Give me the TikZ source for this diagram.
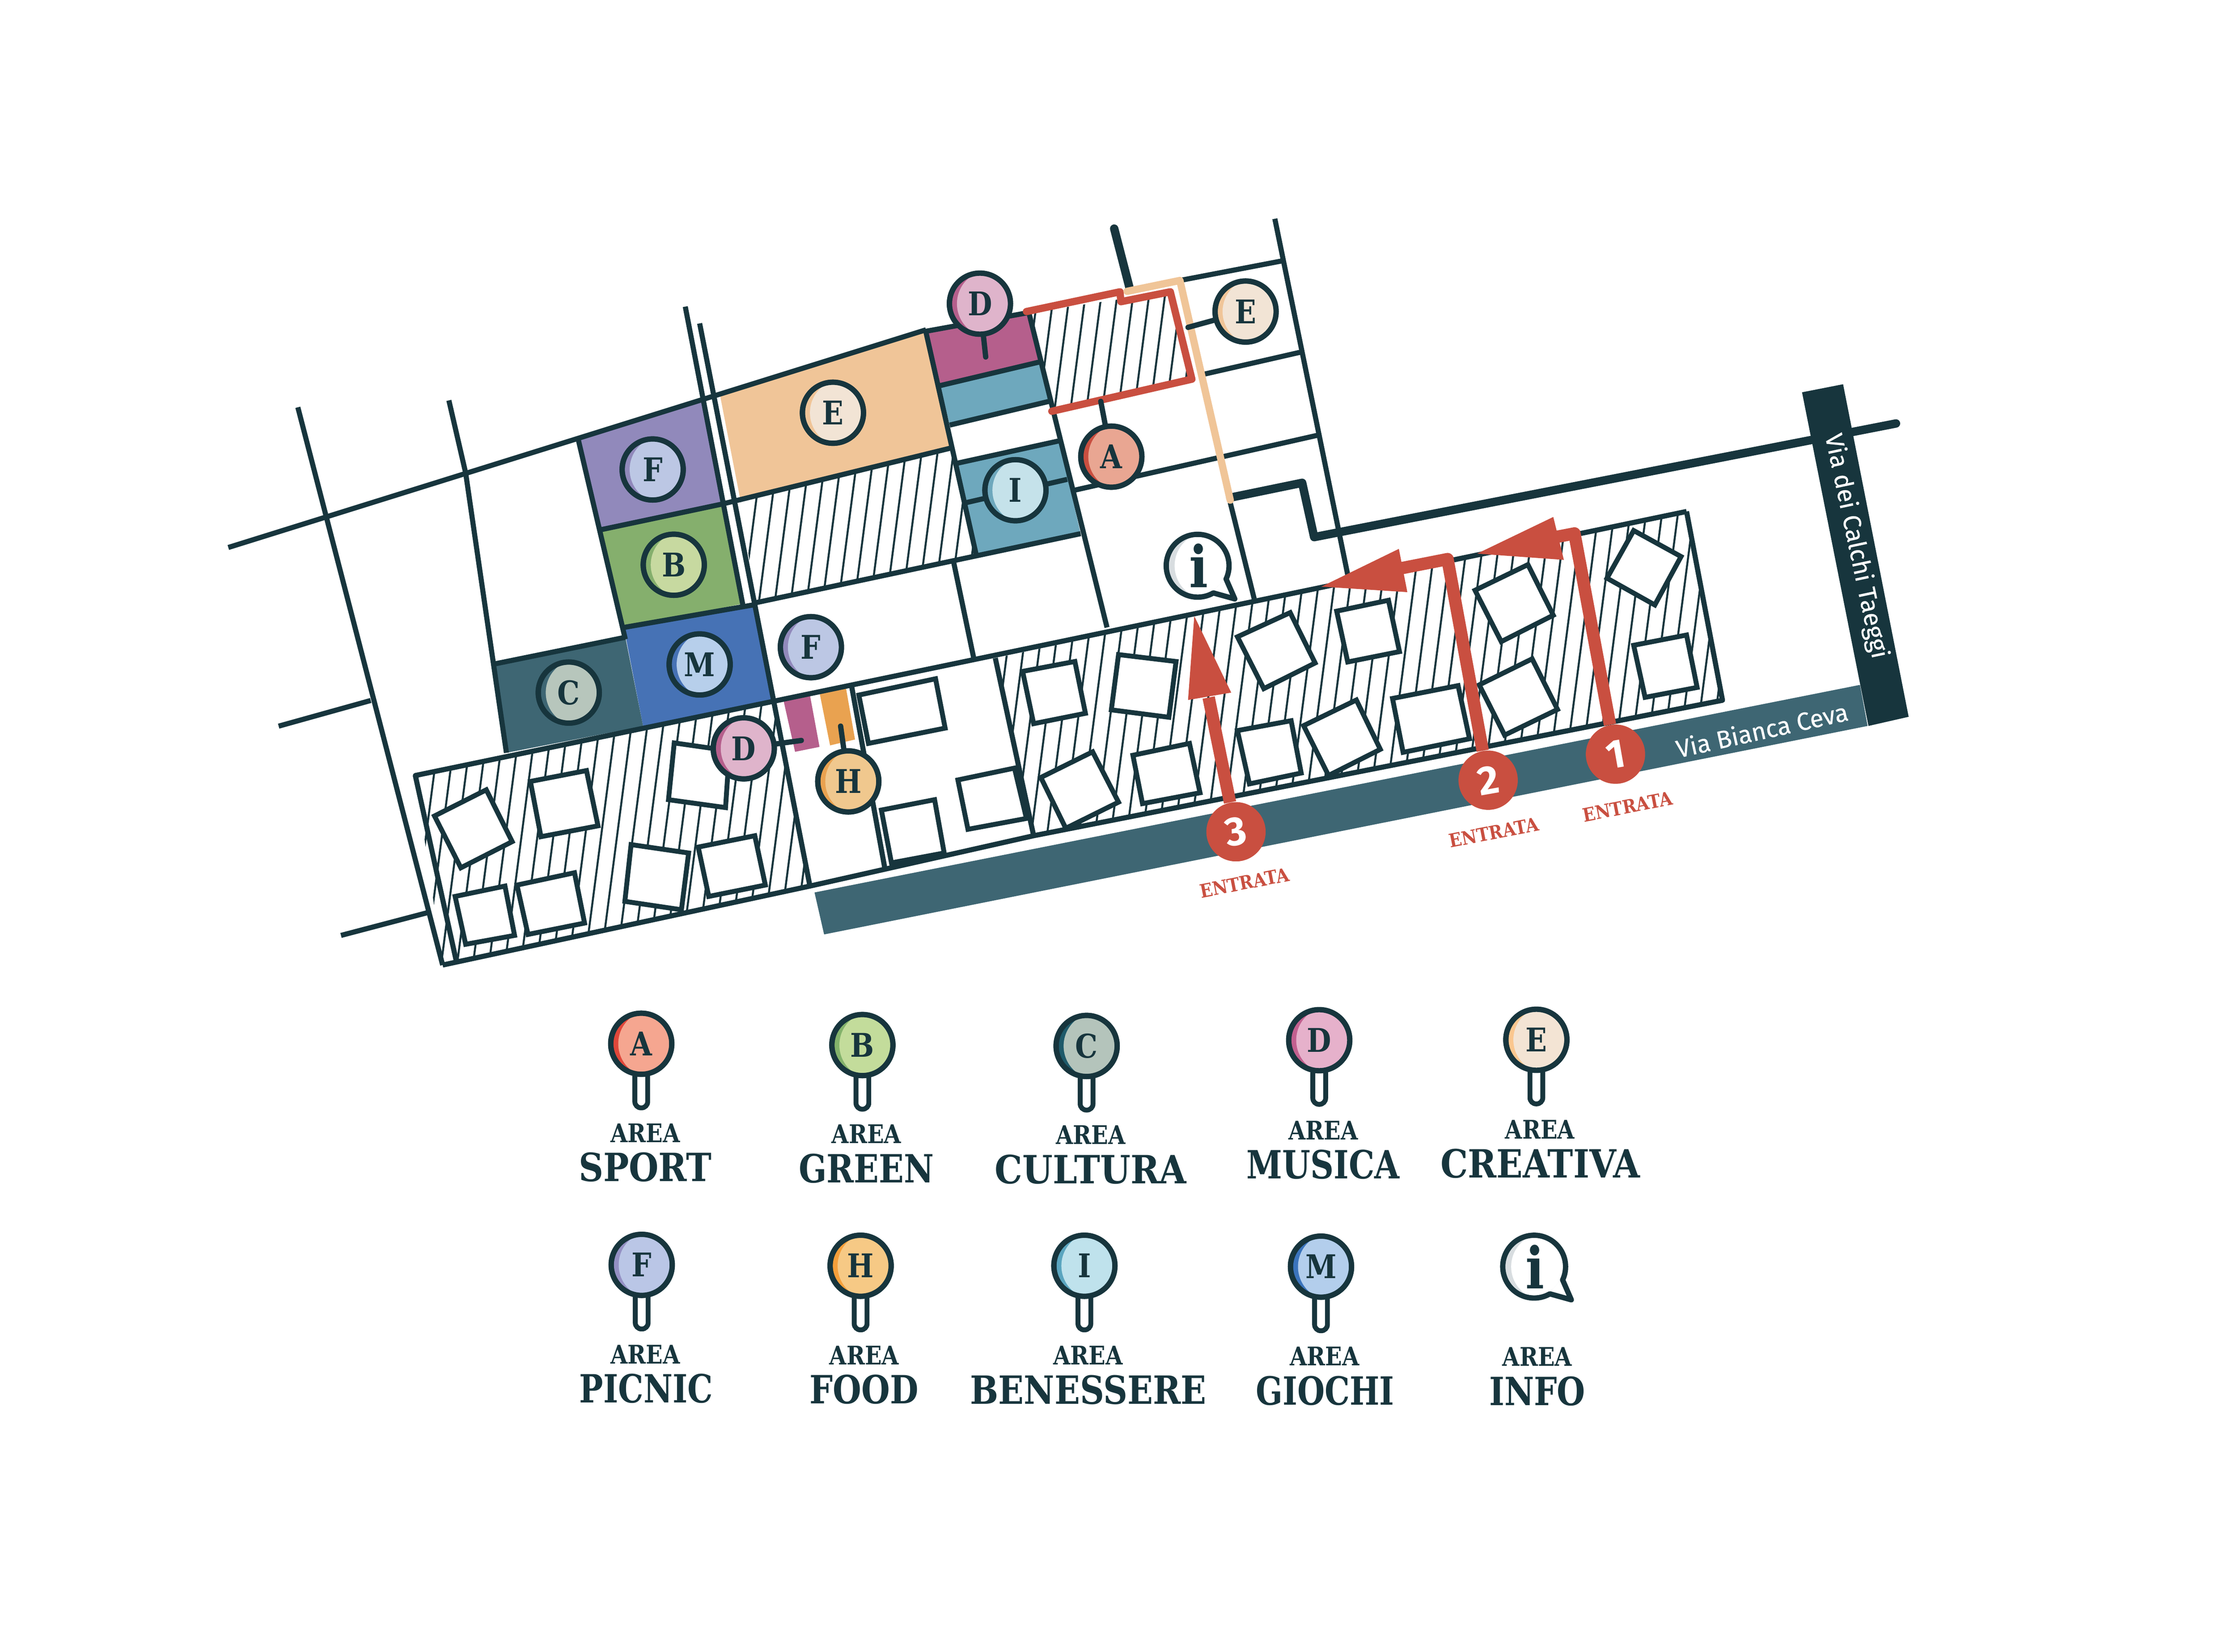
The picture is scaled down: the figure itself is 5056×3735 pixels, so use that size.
\documentclass[tikz,border=0pt]{standalone}
\usepackage{graphicx}
\usepackage{fontspec}
\usetikzlibrary{calc}
\newfontfamily\slab[FakeStretch=0.86]{DejaVu Serif}
\newfontfamily\viafont{Fira Sans}
\newfontfamily\viaboldish[FakeBold=0.4]{Fira Sans}
\definecolor{dk}{HTML}{17353D}
\definecolor{redc}{HTML}{C94F40}
\definecolor{tealb}{HTML}{3E6673}
\definecolor{purp}{HTML}{9189BB}
\definecolor{purpl}{HTML}{BCC7E4}
\definecolor{grn}{HTML}{85AF6D}
\definecolor{grnl}{HTML}{C7D9A0}
\definecolor{tealbl}{HTML}{B7C6BC}
\definecolor{blu}{HTML}{4672B5}
\definecolor{blul}{HTML}{B7CFEB}
\definecolor{mag}{HTML}{B55F8C}
\definecolor{magl}{HTML}{DFB4CB}
\definecolor{org}{HTML}{E9A250}
\definecolor{orgl}{HTML}{F0C88E}
\definecolor{pch}{HTML}{F0C598}
\definecolor{pchl}{HTML}{F2E4D5}
\definecolor{sal}{HTML}{E9A692}
\definecolor{cya}{HTML}{6EA8BD}
\definecolor{cyal}{HTML}{C5E2EA}
\definecolor{cresc}{HTML}{D8DDE0}
% legend tints
\definecolor{leAd}{HTML}{E0473A}\definecolor{leAl}{HTML}{F5A690}
\definecolor{leBd}{HTML}{83B26B}\definecolor{leBl}{HTML}{C3DC9B}
\definecolor{leCd}{HTML}{1F5A6A}\definecolor{leCl}{HTML}{B4C4BB}
\definecolor{leDd}{HTML}{C2608F}\definecolor{leDl}{HTML}{E6B1CB}
\definecolor{leEd}{HTML}{FBC78F}\definecolor{leEl}{HTML}{F3E4D4}
\definecolor{leFd}{HTML}{9490C4}\definecolor{leFl}{HTML}{BAC6E6}
\definecolor{leHd}{HTML}{F59F3A}\definecolor{leHl}{HTML}{F6C985}
\definecolor{leId}{HTML}{5AA5BF}\definecolor{leIl}{HTML}{BFE2EC}
\definecolor{leMd}{HTML}{3B74BC}\definecolor{leMl}{HTML}{B3CEEC}
\tikzset{
 z1/.style={shift={(500,450)},xscale=1.0842,yscale=1.116},
 z2/.style={shift={(1600,450)},xscale=1.0842,yscale=1.116},
 z3/.style={shift={(2900,800)},xscale=0.9566,yscale=0.829},
 road/.style={draw=dk,line width=0.115cm},
 heavy/.style={draw=dk,line width=0.19cm,line join=round,line cap=round},
 hatchline/.style={draw=dk,line width=0.045cm},
 bldg/.style={draw=dk,fill=white,line width=0.11cm},
 stemline/.style={draw=dk,line width=0.12cm,line cap=round},
 pinbase/.style={circle,draw=dk,line width=0.12cm,minimum size=1.38cm,inner sep=0pt},
 pinletter/.style={text=dk,inner sep=0pt,font=\slab\bfseries\fontsize{21}{21}\selectfont},
 redpath/.style={draw=redc,line width=0.28cm,line join=round},
 redthin/.style={draw=redc,line width=0.165cm,line join=round,line cap=round},
 entrycircle/.style={circle,fill=redc,text=white,minimum size=1.34cm,inner sep=0pt},
 entrynum/.style={text=white,inner sep=0pt,rotate=10,font=\viafont\bfseries\fontsize{26}{26}\selectfont},
 entrylabel/.style={text=redc,inner sep=0pt,rotate=11,font=\slab\bfseries\fontsize{12}{12}\selectfont},
 arealabel/.style={text=dk,inner sep=0pt,anchor=base,font=\slab\bfseries\fontsize{16.5}{17}\selectfont},
 biglabel/.style={text=dk,inner sep=0pt,anchor=base,font=\slab\bfseries\fontsize{25}{26}\selectfont},
 vialabel/.style={text=white,inner sep=0pt,font=\viaboldish\fontsize{16}{17}\selectfont},
}
\newcommand{\hatcharea}[1]{%
 \begin{scope}
  \clip #1;
  \foreach \hx in {1000,1036,...,4700}{\draw[hatchline] (\hx,500) -- ({\hx-234},2300);}
 \end{scope}}
\newcommand{\mappin}[5]{%
 \node[pinbase,fill=#4] (#1) at (#2) {};
 \begin{scope}
  \clip (#2) circle (64);
  \fill[#5] ($(#2)+(24,0)$) circle (76);
 \end{scope}
 \draw[dk,line width=0.12cm] (#2) circle (69);
 \node[pinletter] (#1t) at (#2) {#3};}
\newcommand{\infobubble}[2]{%
 \begin{scope}[shift={(#2)}]
  \fill[white] (25:71) arc[start angle=25,end angle=-300,radius=71] -- (84,75) -- cycle;
  \begin{scope}
   \clip (0,0) circle (65);
   \fill[cresc] (0,0) circle (65);
   \fill[white] (24,0) circle (76);
  \end{scope}
  \draw[dk,line width=0.12cm,line join=round] (25:71) arc[start angle=25,end angle=-300,radius=71] -- (84,75) -- cycle;
  \node[text=dk,inner sep=0pt,font=\slab\bfseries\fontsize{37}{37}\selectfont] (#1) at (2,0) {i};
 \end{scope}}
\newcommand{\legendpin}[6]{%
 \begin{scope}[shift={(#2,#3)}]
  \draw[dk,fill=white,line width=0.11cm,rounded corners=0.14cm] (-14.5,60) rectangle (14.5,145);
  \coordinate (#1c) at (0,0);
 \end{scope}
 \mappin{#1}{#1c}{#4}{#5}{#6}}
\newcommand{\legendtext}[7]{%
 \node[arealabel] (#1a) at (#2,{#3+21}) {AREA};
 \node[biglabel] (#1b) at (#4,{#5+32}) {\scalebox{#7}[1]{#6}};}
\begin{document}
\begin{tikzpicture}[x=0.01cm,y=-0.01cm]
\useasboundingbox (0,0) rectangle (5056,3735);
\fill[white] (0,0) rectangle (5056,3735);
% ---- named points
\begin{scope}[z1]
 \coordinate (cF1) at (900,548); \coordinate (cB) at (944,741); \coordinate (cC) at (725,1000);
 \coordinate (cM) at (998,943); \coordinate (cF2) at (1230,908); \coordinate (cD1) at (1090,1113);
 \coordinate (cH) at (1308,1180); \coordinate (cE1) at (1276,433);
 \coordinate (sD1) at (1210,1097); \coordinate (sH) at (1292,1068);
 \coordinate (mainA) at (1150,1018); \coordinate (lotA) at (1228,1392);
 \coordinate (lotTL) at (405,1168); \coordinate (lotBL) at (462,1552);
\end{scope}
\begin{scope}[z2]
 \coordinate (cD2) at (568,212); \coordinate (cE2) at (1122,228); \coordinate (cA) at (842,522);
 \coordinate (cI) at (642,590); \coordinate (cInfo) at (1022,743);
 \coordinate (sD2) at (580,320); \coordinate (sE2) at (1002,260); \coordinate (sA) at (820,410);
 \coordinate (sIa) at (540,615); \coordinate (sIb) at (750,568);
 \coordinate (lotC) at (600,930); \coordinate (lotD) at (680,1290);
 \coordinate (n3) at (1102,1282); \coordinate (h3) at (1045,1010);
 \coordinate (tip3) at (1015,845); \coordinate (a3) at (1002,1015); \coordinate (b3) at (1092,1000);
 \coordinate (bandA) at (223,1405); \coordinate (bandB) at (243,1490);
 \coordinate (thickA) at (1090,605); \coordinate (thickB) at (1240,575); \coordinate (thickC) at (1265,685);
\end{scope}
\begin{scope}[z3]
 \coordinate (lotE) at (955,430); \coordinate (lotF) at (1040,945);
 \coordinate (thickD) at (1450,190);
 \coordinate (bandC) at (1365,903); \coordinate (bandD) at (1383,1015);
 \coordinate (n1) at (787,1092); \coordinate (t1) at (690,490); \coordinate (e1) at (645,500);
 \coordinate (tip1) at (460,545); \coordinate (a1) at (640,445); \coordinate (b1) at (665,562);
 \coordinate (n2) at (486,1163); \coordinate (t2) at (390,560); \coordinate (e2) at (280,585);
 \coordinate (tip2) at (92,635); \coordinate (a2) at (275,532); \coordinate (b2) at (295,650);
\end{scope}
% ---- hatching
\hatcharea{(lotTL) -- (mainA) -- (lotA) -- (lotBL) -- cycle}
\begin{scope}[z2]\coordinate (h2a) at (68,605); \coordinate (h2b) at (505,505); \coordinate (h2c) at (560,720); \coordinate (h2d) at (100,818);
 \coordinate (h3a) at (670,230); \coordinate (h3b) at (965,188); \coordinate (h3c) at (1010,365); \coordinate (h3d) at (718,430);\end{scope}
\hatcharea{(h2a) -- (h2b) -- (h2c) -- (h2d) -- cycle}
\hatcharea{(h3a) -- (h3b) -- (h3c) -- (h3d) -- cycle}
\hatcharea{(lotC) -- (lotE) -- (lotF) -- (lotD) -- cycle}
% ---- colour blocks
\begin{scope}[z1]
 \fill[purp] (745,488) -- (1005,405) -- (1045,618) -- (792,670) -- cycle;
 \fill[grn] (792,670) -- (1045,618) -- (1088,820) -- (840,868) -- cycle;
 \fill[blu] (840,868) -- (1112,822) -- (1150,1018) -- (880,1068) -- cycle;
 \fill[tealb] (570,942) -- (843,888) -- (880,1068) -- (595,1122) -- cycle;
 \fill[pch] (1040,395) -- (1470,268) -- (1520,505) -- (1082,605) -- cycle;
 \fill[mag] (1172,1012) -- (1228,1005) -- (1248,1110) -- (1197,1120) -- cycle;
 \fill[org] (1248,1000) -- (1303,990) -- (1322,1095) -- (1270,1107) -- cycle;
\end{scope}
\begin{scope}[z2]
 \fill[mag] (455,268) -- (670,230) -- (693,330) -- (485,378) -- cycle;
 \fill[cya] (485,378) -- (693,330) -- (712,410) -- (505,458) -- cycle;
 \fill[cya] (522,535) -- (733,490) -- (778,678) -- (562,718) -- cycle;
\end{scope}
% ---- roads and lot lines
\begin{scope}[z1]
 \draw[road] (15,706) -- (1470,265);
 \draw[road] (160,422) -- (462,1552);
 \draw[road] (475,408) -- (510,555) -- (595,1122);
 \draw[road] (120,1068) -- (312,1016);
 \draw[road] (250,1492) -- (430,1446);
 \draw[road,line join=round] (490,1542) -- (405,1168) -- (1150,1018);
 \draw[road] (968,218) -- (1088,822);
 \draw[road] (998,252) -- (1228,1392);
 \draw[road] (745,488) -- (843,892);
 \draw[road] (792,670) -- (1045,618);
 \draw[road] (840,868) -- (1112,822);
 \draw[road] (570,942) -- (843,888);
 \draw[road] (1045,618) -- (1520,505);
\end{scope}
\draw[road] (mainA) -- (lotE);
\draw[road,line join=round] (lotBL) -- (lotA) -- (lotD) -- (lotF) -- (lotE);
\draw[road] (lotC) -- (lotD);
\begin{scope}[z2]
 \draw[road] (455,268) -- (670,230);
 \draw[road] (455,268) -- (560,720);
 \draw[road] (670,230) -- (833,868);
 \draw[road] (485,378) -- (693,330);
 \draw[road] (505,458) -- (712,410);
 \draw[road] (522,535) -- (733,490);
 \draw[road] (100,818) -- (778,678);
 \draw[road] (765,590) -- (1275,478);
 \draw[road] (985,165) -- (1200,125);
 \draw[road] (1035,355) -- (1238,310);
 \draw[road] (1183,40) -- (1340,785);
 \draw[road] (513,735) -- (555,930);
 \draw[road] (1090,615) -- (1140,810);
 \draw[road] (300,985) -- (370,1358);
 \coordinate (hvA) at (848,60); \coordinate (hvB) at (880,180);
\end{scope}
% ---- buildings
\begin{scope}[z1]
 \draw[bldg] (445,1250) -- (553,1197) -- (607,1302) -- (500,1355) -- cycle;
 \draw[bldg] (645,1180) -- (762,1158) -- (786,1270) -- (667,1292) -- cycle;
 \draw[bldg] (945,1102) -- (1060,1118) -- (1052,1233) -- (933,1217) -- cycle;
 \draw[bldg] (488,1413) -- (592,1392) -- (612,1492) -- (510,1510) -- cycle;
 \draw[bldg] (617,1390) -- (737,1365) -- (758,1467) -- (640,1490) -- cycle;
 \draw[bldg] (855,1308) -- (975,1325) -- (960,1440) -- (842,1423) -- cycle;
 \draw[bldg] (995,1313) -- (1113,1290) -- (1135,1390) -- (1017,1413) -- cycle;
 \draw[bldg] (1330,1005) -- (1490,972) -- (1510,1072) -- (1350,1103) -- cycle;
 \draw[bldg] (1377,1238) -- (1488,1217) -- (1508,1325) -- (1398,1345) -- cycle;
\end{scope}
\begin{scope}[z2]
 \draw[bldg] (522,1177) -- (640,1153) -- (665,1255) -- (543,1277) -- cycle;
 \draw[bldg] (657,957) -- (766,937) -- (788,1042) -- (680,1063) -- cycle;
 \draw[bldg] (857,923) -- (977,937) -- (962,1050) -- (842,1035) -- cycle;
 \draw[bldg] (695,1172) -- (803,1120) -- (857,1222) -- (747,1275) -- cycle;
 \draw[bldg] (887,1127) -- (1005,1103) -- (1027,1203) -- (907,1225) -- cycle;
 \draw[bldg] (1105,887) -- (1215,838) -- (1267,940) -- (1160,992) -- cycle;
 \draw[bldg] (1105,1077) -- (1217,1057) -- (1238,1163) -- (1130,1185) -- cycle;
 \draw[bldg] (1243,1067) -- (1353,1015) -- (1403,1115) -- (1295,1168) -- cycle;
 \draw[bldg] (1312,835) -- (1420,813) -- (1443,917) -- (1335,938) -- cycle;
\end{scope}
\begin{scope}[z3]
 \draw[bldg] (260,940) -- (415,905) -- (442,1050) -- (285,1087) -- cycle;
 \draw[bldg] (455,645) -- (580,575) -- (640,713) -- (517,785) -- cycle;
 \draw[bldg] (465,903) -- (590,832) -- (650,970) -- (525,1040) -- cycle;
 \draw[bldg] (767,612) -- (830,482) -- (942,553) -- (880,685) -- cycle;
 \draw[bldg] (830,795) -- (955,767) -- (980,910) -- (857,937) -- cycle;
\end{scope}
% ---- heavy walls and streets
\draw[heavy] (hvA) -- (hvB);
\draw[heavy] (thickA) -- (thickB) -- (thickC) -- (thickD);
\fill[tealb] (bandA) -- (bandC) -- (bandD) -- (bandB) -- cycle;
\begin{scope}[z3]
 \fill[dk] (1228,105) -- (1325,83) -- (1480,990) -- (1385,1015) -- cycle;
\end{scope}
\node[vialabel,rotate=12.5] (via1) at (3984,1650) {Via Bianca Ceva};
\node[vialabel,rotate=-78] (via2) at (4196,1235) {Via dei Calchi Taeggi};
% ---- red and peach routes
\begin{scope}[z2]
 \draw[redthin] (665,228) -- (860,188) -- (862,208) -- (965,188) -- (1010,365) -- (718,430);
 \draw[draw=pch,line width=0.165cm,line cap=round,line join=round] (875,187) -- (985,165) -- (1090,610);
\end{scope}
% ---- pins on the map
\mappin{pF1}{cF1}{F}{purp}{purpl}
\mappin{pB}{cB}{B}{grn}{grnl}
\mappin{pC}{cC}{C}{tealb}{tealbl}
\mappin{pM}{cM}{M}{blu}{blul}
\mappin{pF2}{cF2}{F}{purp}{purpl}
\draw[stemline] (cD1) -- (sD1);
\mappin{pD1}{cD1}{D}{mag}{magl}
\draw[stemline] (sH) -- (cH);
\mappin{pH}{cH}{H}{org}{orgl}
\mappin{pE1}{cE1}{E}{pch}{pchl}
\draw[stemline] (sD2) -- (cD2);
\mappin{pD2}{cD2}{D}{mag}{magl}
\draw[stemline] (sE2) -- (cE2);
\mappin{pE2}{cE2}{E}{pch}{pchl}
\draw[stemline] (sA) -- (cA);
\mappin{pA}{cA}{A}{redc}{sal}
\draw[road] (sIa) -- (sIb);
\mappin{pI}{cI}{I}{cya}{cyal}
\infobubble{infoMap}{cInfo}
% ---- entrances
\node[entrycircle] (e3) at (n3) {};
\node[entrycircle] (e2n) at (n2) {};
\node[entrycircle] (e1n) at (n1) {};
\draw[redpath] (e3) -- (h3);
\fill[redc] (tip3) -- (a3) -- (b3) -- cycle;
\draw[redpath] (e2n) -- (t2) -- (e2);
\fill[redc] (tip2) -- (a2) -- (b2) -- cycle;
\draw[redpath] (e1n) -- (t1) -- (e1);
\fill[redc] (tip1) -- (a1) -- (b1) -- cycle;
\node[entrynum] (l3) at (n3) {3};
\node[entrynum] (l2) at (n2) {2};
\node[entrynum] (l1) at (n1) {1};
\node[entrylabel] (en1) at (3680,1824) {\scalebox{1.04}[1]{ENTRATA}};
\node[entrylabel] (en2) at (3378,1882) {\scalebox{1.04}[1]{ENTRATA}};
\node[entrylabel] (en3) at (2814,1996) {\scalebox{1.04}[1]{ENTRATA}};
% ---- legend
\legendpin{lA}{1450}{2360}{A}{leAd}{leAl}
\legendpin{lB}{1950}{2363}{B}{leBd}{leBl}
\legendpin{lC}{2457}{2365}{C}{leCd}{leCl}
\legendpin{lD}{2983}{2352}{D}{leDd}{leDl}
\legendpin{lE}{3474}{2351}{E}{leEd}{leEl}
\legendpin{lF}{1451}{2860}{F}{leFd}{leFl}
\legendpin{lH}{1946}{2862}{H}{leHd}{leHl}
\legendpin{lI}{2452}{2862}{I}{leId}{leIl}
\legendpin{lM}{2987}{2864}{M}{leMd}{leMl}
\coordinate (lInfoC) at (3469,2864);
\infobubble{lInfo}{lInfoC}
\legendtext{tA}{1459}{2562}{1459}{2639}{SPORT}{1.02}
\legendtext{tB}{1959}{2564}{1959}{2642}{GREEN}{0.98}
\legendtext{tC}{2466}{2566}{2466}{2644}{CULTURA}{1.04}
\legendtext{tD}{2992}{2556}{2992}{2633}{MUSICA}{0.965}
\legendtext{tE}{3482}{2554}{3483}{2631}{CREATIVA}{1.03}
\legendtext{tF}{1459}{3063}{1461}{3140}{PICNIC}{0.95}
\legendtext{tH}{1954}{3065}{1954}{3142}{FOOD}{0.98}
\legendtext{tI}{2460}{3065}{2461}{3143}{BENESSERE}{1}
\legendtext{tM}{2995}{3067}{2996}{3145}{GIOCHI}{0.94}
\legendtext{tN}{3476}{3068}{3476}{3146}{INFO}{0.97}
\end{tikzpicture}
\end{document}
